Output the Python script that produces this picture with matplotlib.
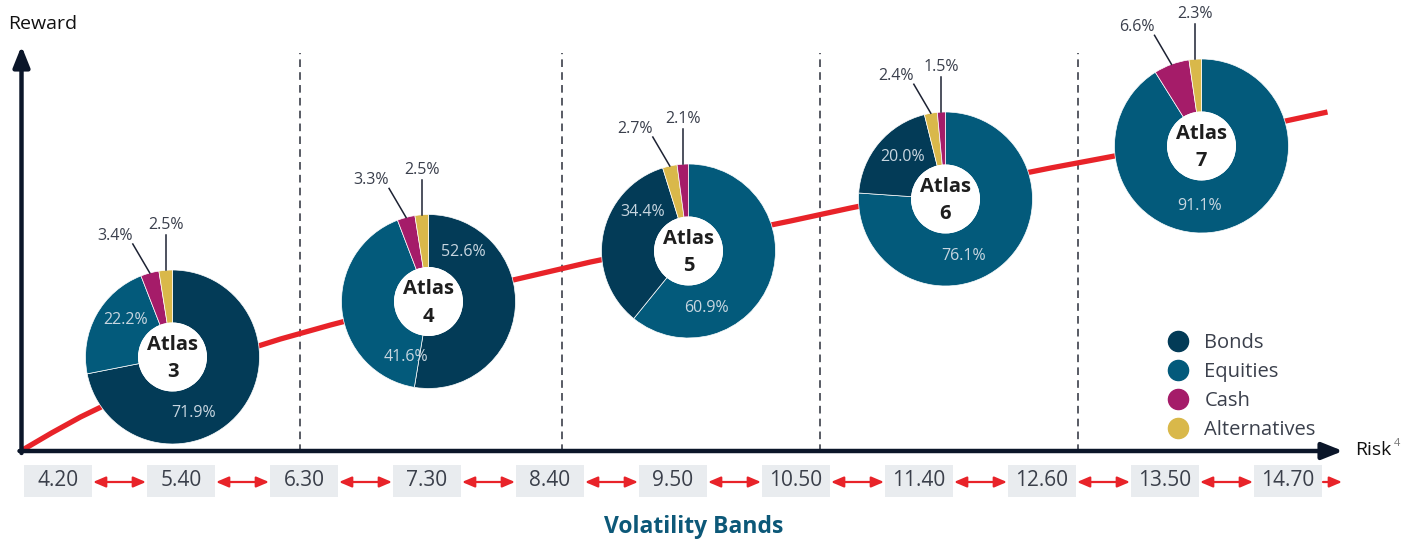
import matplotlib
matplotlib.use('Agg')
import matplotlib.pyplot as plt
from matplotlib.patches import Rectangle, Circle
from matplotlib.lines import Line2D
import numpy as np

plt.rcParams['font.family'] = ['Open Sans', 'DejaVu Sans']

# ---------------- data ----------------
categories = ['Bonds', 'Equities', 'Cash', 'Alternatives']
portfolios = ['3', '4', '5', '6', '7']
bonds = [71.9, 52.6, 34.4, 20.0, 0.0]
equities = [22.2, 41.6, 60.9, 76.1, 91.1]
cash = [3.4, 3.3, 2.1, 1.5, 6.6]
alternatives = [2.5, 2.5, 2.7, 2.4, 2.3]
volatility_bands = ['4.20', '5.40', '6.30', '7.30', '8.40', '9.50',
                    '10.50', '11.40', '12.60', '13.50', '14.70']
# risk / reward curve (schematic, chart units)
curve_risk = [1, 30, 59, 94, 129, 159, 189, 224, 259, 309, 409, 509, 569,
              769, 829, 1029, 1093, 1264, 1306]
curve_reward = [1, 18, 34, 51, 66, 78, 89, 101, 112, 126, 152, 175, 189,
                230, 243, 283, 295, 330, 339]

# ---------------- style / layout ----------------
colors = {'Bonds': '#033b57', 'Equities': '#035a7b',
          'Cash': '#a51c69', 'Alternatives': '#d9b84a'}
W, H = 1414, 541
OX, OY = 21.5, 451


def X(px):
    return px - OX


def Y(py):
    return OY - py


fig = plt.figure(figsize=(W / 100, H / 100), dpi=100)
ax = fig.add_axes([0, 0, 1, 1])
ax.axis('off')

# reward curve
ax.plot(curve_risk, curve_reward, color='#e82329', lw=3.8,
        solid_capstyle='butt', solid_joinstyle='round', zorder=2)

# dashed separators
for px in [300, 562, 820, 1078]:
    ax.plot([X(px), X(px)], [Y(452), Y(53)], color='#2b2f3a', lw=1.1,
            ls=(0, (5, 3.4)), zorder=1)

# axes with arrows
axis_col = '#0b1629'
ax.annotate('', xy=(X(21.5), Y(46)), xytext=(X(21.5), Y(453)),
            arrowprops=dict(arrowstyle='-|>,head_length=1.25,head_width=0.5',
                            lw=3.2, color=axis_col, mutation_scale=10,
                            shrinkA=0, shrinkB=0), zorder=5)
ax.annotate('', xy=(X(1343), Y(451)), xytext=(X(19.5), Y(451)),
            arrowprops=dict(arrowstyle='-|>,head_length=1.25,head_width=0.5',
                            lw=3.2, color=axis_col, mutation_scale=10,
                            shrinkA=0, shrinkB=0), zorder=5)
ax.text(X(8), Y(24), 'Reward', fontsize=14, color='#111111', ha='left', va='center')
ax.text(X(1355), Y(450), 'Risk', fontsize=14, color='#111111', ha='left', va='center')
ax.text(X(1394), Y(444), '4', fontsize=8, color='#777777', ha='left', va='center')

# donuts
centers_px = [(172.5, 357), (428.5, 301.5), (688.5, 251), (945.5, 199), (1201.5, 146)]
inner_label_angles = [[159.7, 308], [34.9, 202.6], [162.6, 310.6], [162.3, 314], [181.5]]
R, r_in = 87, 34
series = [bonds, equities, cash, alternatives]

for i, (cxp, cyp) in enumerate(centers_px):
    cx, cy = X(cxp), Y(cyp)
    items = [(s[i], c) for s, c in zip(series, categories) if s[i] > 0]
    items.sort(key=lambda t: -t[0])
    vals = [t[0] for t in items]
    cols = [colors[t[1]] for t in items]
    wedges, _ = ax.pie(vals, colors=cols, radius=R, center=(cx, cy), startangle=90,
                       counterclock=False, frame=True,
                       wedgeprops=dict(width=R - r_in, edgecolor='white', linewidth=0.5))
    for w in wedges:
        w.set_zorder(3)
    ax.add_patch(Circle((cx, cy), r_in + 0.5, fc='white', ec='none', zorder=3.5))
    ax.text(cx, cy + 12, 'Atlas', fontsize=14.5, fontweight='bold', color='#1e1e1e',
            ha='center', va='center', zorder=6)
    ax.text(cx, cy - 15, portfolios[i], fontsize=14.5, fontweight='bold', color='#1e1e1e',
            ha='center', va='center', zorder=6)
    n_in = len(inner_label_angles[i])
    total = sum(vals)
    cum = 0.0
    for k, v in enumerate(vals):
        if k < n_in:
            a = np.radians(inner_label_angles[i][k])
            ax.text(cx + 60 * np.sin(a), cy + 60 * np.cos(a), f'{v:.1f}%',
                    fontsize=11.5, color='#c8d6e0', ha='center', va='center', zorder=6)
        else:
            mid = np.radians(360 * (cum + v / 2) / total)
            ox, oy = cx + R * np.sin(mid), cy + R * np.cos(mid)
            if k == len(vals) - 1:
                ex, ey = ox, oy + 35
                tx, ty = ex, ey + 10
            else:
                ex, ey = ox - 17, oy + 29
                tx, ty = ex - 18, ey + 8
            ax.plot([ox, ex], [oy, ey], color='#1d2233', lw=1.1, zorder=4)
            ax.text(tx, ty, f'{v:.1f}%', fontsize=11.5, color='#3a3f4c',
                    ha='center', va='center', zorder=6)
        cum += v

# legend
handles = [Line2D([0], [0], marker='o', ls='none', markersize=14.5,
                  markerfacecolor=colors[c], markeredgecolor=colors[c]) for c in categories]
ax.legend(handles, categories, loc='upper left', bbox_to_anchor=(X(1166), Y(333)),
          bbox_transform=ax.transData, frameon=False, fontsize=14.5,
          labelspacing=0.45, handletextpad=0.7, handlelength=1.2,
          borderpad=0, borderaxespad=0, labelcolor='#3b404c')

# volatility bands
for i, lab in enumerate(volatility_bands):
    bx = 58 + 123 * i
    ax.add_patch(Rectangle((X(bx - 34), Y(497)), 68, 32, fc='#e9ecef', ec='none', zorder=2))
    ax.text(X(bx), Y(481), lab, fontsize=15, color='#3a3f4a',
            ha='center', va='center', zorder=3)
    if i < len(volatility_bands) - 1:
        x0, x1 = bx + 35, bx + 123 - 35
        style = '<|-|>,head_length=0.75,head_width=0.32'
    else:
        x0, x1 = bx + 35, bx + 54
        style = '-|>,head_length=0.75,head_width=0.32'
    ax.annotate('', xy=(X(x1), Y(482)), xytext=(X(x0), Y(482)),
                arrowprops=dict(arrowstyle=style, lw=1.6, color='#e82329',
                                mutation_scale=10, shrinkA=0, shrinkB=0))

ax.text(X(694), Y(527), 'Volatility Bands', fontsize=16.5, fontweight='bold',
        color='#0c5878', ha='center', va='center')

ax.set_xlim(X(0), X(W))
ax.set_ylim(Y(H), Y(0))
ax.set_aspect('equal', adjustable='box')

fig.savefig('out.png', dpi=100)
